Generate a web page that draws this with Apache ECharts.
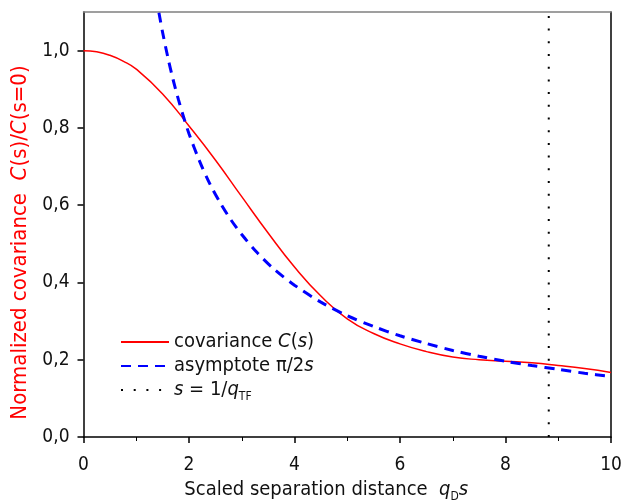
<!DOCTYPE html>
<html>
<head>
<meta charset="utf-8">
<script src="https://cdn.jsdelivr.net/npm/echarts@6/dist/echarts.min.js"></script>
<style>html,body{margin:0;padding:0;background:#fff;}#c{width:622px;height:500px;}</style>
</head>
<body>
<div id="c"></div>
<script>
// Data
const covS = [0, 0.25, 0.5, 0.75, 1.0, 1.5, 2.0, 2.5, 3.0, 3.5, 4.0, 4.5, 5.0, 5.5, 6.0, 6.5, 7.0, 7.5, 8.0, 8.5, 9.0, 9.5, 10.0];
const covC = [1.000, 0.997, 0.988, 0.973, 0.952, 0.888, 0.805, 0.717, 0.622, 0.528, 0.440, 0.365, 0.306, 0.268, 0.241, 0.221, 0.207, 0.200, 0.196, 0.192, 0.185, 0.177, 0.167];
const asyS = [1.43, 1.5, 1.6, 1.7, 1.8, 1.9, 2.0, 2.2, 2.4, 2.6, 2.8, 3.0, 3.3, 3.6, 4.0, 4.5, 5.0, 5.5, 6.0, 6.5, 7.0, 7.5, 8.0, 8.5, 9.0, 9.5, 10.0];
const asyC = [1.098, 1.047, 0.982, 0.924, 0.873, 0.827, 0.785, 0.714, 0.654, 0.604, 0.561, 0.524, 0.476, 0.436, 0.393, 0.349, 0.314, 0.286, 0.262, 0.242, 0.224, 0.209, 0.196, 0.185, 0.175, 0.165, 0.157];
const tfS = [8.82, 8.82];
const tfC = [0, 1.1];
const yTicks = [0, 0.2, 0.4, 0.6, 0.8, 1.0];
const xTicks = [0, 2, 4, 6, 8, 10];
const seriesNames = ['cov', 'asy', 'tf'];

const FONT = '"DejaVu Sans Condensed", "DejaVu Sans"';
const chart = echarts.init(document.getElementById('c'), null, {renderer: 'canvas'});
const zip = (a, b) => a.map((v, i) => [v, b[i]]);

function rich(size, color) {
  return {
    n: {fontFamily: FONT, fontSize: size, color: color},
    i: {fontFamily: FONT, fontSize: size, fontStyle: 'italic', color: color},
    sub: {fontFamily: FONT, fontSize: Math.round(size * 0.6), color: color, padding: [Math.round(size * 0.7), 0, 0, 0]}
  };
}

chart.setOption({
  animation: false,
  backgroundColor: '#fff',
  grid: {left: 83.5, right: 11, top: 12, bottom: 63, containLabel: false, outerBoundsMode: 'none'},
  legend: {
    orient: 'vertical',
    left: 115,
    top: 327,
    itemWidth: 48,
    itemHeight: 14,
    itemGap: 4,
    data: seriesNames,
    itemStyle: {opacity: 0},
    textStyle: {fontFamily: FONT, fontSize: 20, color: '#111', rich: rich(20, '#111')},
    formatter: function (name) {
      if (name === 'cov') return '{n|covariance }{i|C}{n|(}{i|s}{n|)}';
      if (name === 'asy') return '{n|asymptote π/2}{i|s}';
      return '{i|s}{n| = 1/}{i|q}{sub|TF}';
    }
  },
  xAxis: [{
    type: 'value', min: 0, max: 10, interval: 2, position: 'bottom',
    name: '{n|Scaled separation distance  }{i|q}{sub|D}{i|s}',
    nameLocation: 'middle', nameGap: 38,
    nameTextStyle: {padding: [0, 42, 0, 0], rich: rich(20, '#111')},
    axisLine: {show: true, onZero: false, lineStyle: {color: '#000', width: 1.5}},
    axisTick: {show: true, inside: false, length: 6, lineStyle: {color: '#000', width: 1.5}, customValues: xTicks},
    minorTick: {show: true, splitNumber: 2, length: 4, lineStyle: {color: '#000', width: 1}},
    axisLabel: {fontFamily: FONT, fontSize: 19, color: '#111', margin: 19, customValues: xTicks},
    splitLine: {show: false}
  }, {
    type: 'value', min: 0, max: 10, position: 'top',
    axisLine: {show: true, onZero: false, lineStyle: {color: '#808080', width: 1.5}},
    axisTick: {show: false}, axisLabel: {show: false}, splitLine: {show: false}
  }],
  yAxis: [{
    type: 'value', min: 0, max: 1.1, position: 'left',
    name: '{n|Normalized covariance  }{i|C}{n|(s)/}{i|C}{n|(s=0)}',
    nameLocation: 'middle', nameGap: 48, nameRotate: 90,
    nameTextStyle: {padding: [0, 0, 0, -36], rich: rich(22, '#ff0000')},
    axisLine: {show: true, onZero: false, lineStyle: {color: '#000', width: 1.5}},
    axisTick: {show: true, inside: false, length: 6, lineStyle: {color: '#000', width: 1.5}, customValues: yTicks},
    axisLabel: {
      fontFamily: FONT, fontSize: 19, color: '#111', margin: 14, customValues: yTicks,
      formatter: v => v.toFixed(1).replace('.', ',')
    },
    splitLine: {show: false}
  }, {
    type: 'value', min: 0, max: 1.1, position: 'right',
    axisLine: {show: true, onZero: false, lineStyle: {color: '#000', width: 1.5}},
    axisTick: {show: false}, axisLabel: {show: false}, splitLine: {show: false}
  }],
  series: [{
    name: 'cov', type: 'line', data: zip(covS, covC), smooth: 0.5, showSymbol: false, symbol: 'none',
    lineStyle: {color: '#ff0000', width: 1.5}, itemStyle: {color: '#ff0000'}, z: 3
  }, {
    name: 'asy', type: 'line', data: zip(asyS, asyC), smooth: 0.3, showSymbol: false, symbol: 'none',
    lineStyle: {color: '#0000ff', width: 3, type: [10, 7]}, itemStyle: {color: '#0000ff'}, z: 4
  }, {
    name: 'tf', type: 'line', data: zip(tfS, tfC), showSymbol: false, symbol: 'none',
    lineStyle: {color: '#000', width: 2, type: [2, 10.7]}, itemStyle: {color: '#000'}, z: 2
  }]
});
</script>
</body>
</html>
